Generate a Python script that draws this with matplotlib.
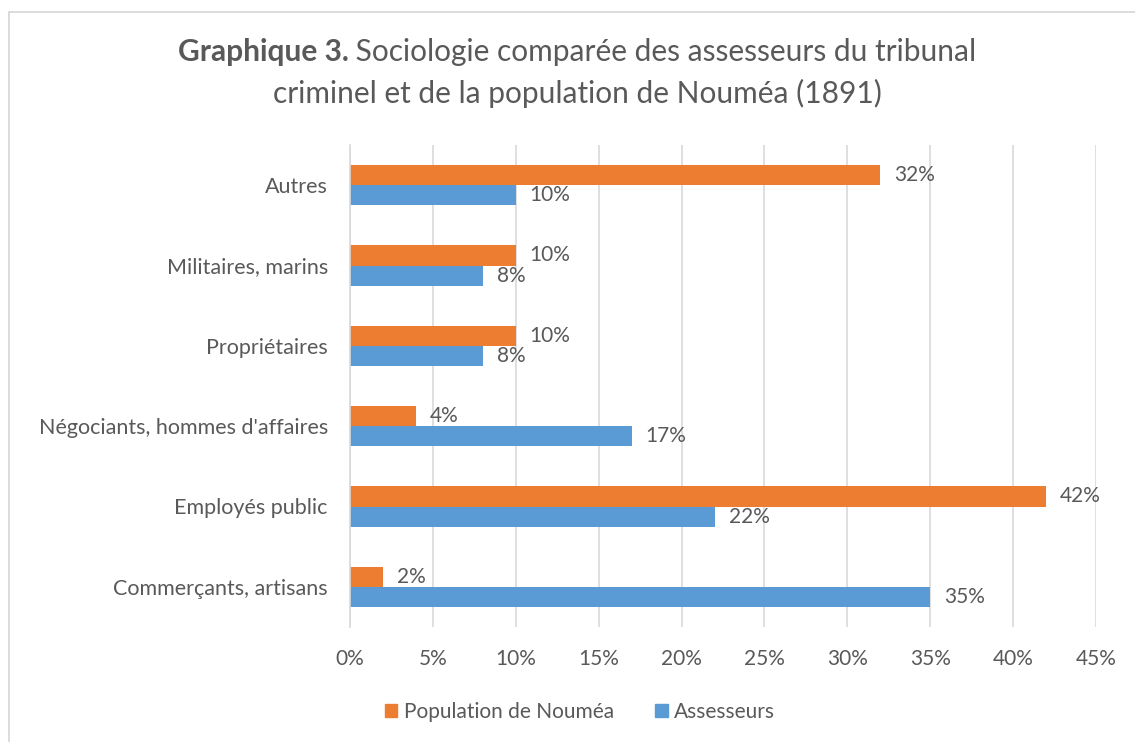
import numpy as np
import matplotlib.pyplot as plt
from matplotlib.patches import Rectangle, Patch

categories = ["Commerçants, artisans", "Employés public", "Négociants, hommes d'affaires",
              "Propriétaires", "Militaires, marins", "Autres"]
population = [2, 42, 4, 10, 10, 32]
assesseurs = [35, 22, 17, 8, 8, 10]
xticks = [0, 5, 10, 15, 20, 25, 30, 35, 40, 45]

ORANGE = '#ED7D31'
BLUE = '#5B9BD5'
TXT = '#595959'
FONT = 'Lato'
FS = 15

W, H = 1135, 742


def main():
    plt.rcParams['font.family'] = [FONT, 'DejaVu Sans']
    fig = plt.figure(figsize=(W / 100, H / 100), dpi=100)
    fig.patches.append(Rectangle((8.5 / W, -0.1), 1.2, 1 - 11.5 / H + 0.1,
                                 transform=fig.transFigure, fill=False,
                                 edgecolor='#d9d9d9', linewidth=1.3))

    ax = fig.add_axes([350 / W, 1 - 627 / H, (1096 - 350) / W, (627 - 145) / H])
    y = np.arange(len(categories))
    h = 0.25
    ax.barh(y + h / 2, population, height=h, color=ORANGE, label='Population de Nouméa', zorder=3)
    ax.barh(y - h / 2, assesseurs, height=h, color=BLUE, label='Assesseurs', zorder=3)

    for yi, v in zip(y, population):
        ax.annotate(f"{v}%", (v, yi + h / 2), xytext=(10, 0), textcoords='offset points',
                    va='center', ha='left', fontsize=FS, color=TXT)
    for yi, v in zip(y, assesseurs):
        ax.annotate(f"{v}%", (v, yi - h / 2), xytext=(10, 0), textcoords='offset points',
                    va='center', ha='left', fontsize=FS, color=TXT)

    ax.set_xlim(0, 45)
    ax.set_ylim(-0.5, len(categories) - 0.5)
    ax.set_xticks(xticks)
    ax.set_xticklabels([f"{t}%" for t in xticks])
    ax.set_yticks(y)
    ax.set_yticklabels(categories)
    ax.tick_params(axis='both', length=0, labelsize=FS, labelcolor=TXT)
    ax.tick_params(axis='y', labelsize=15.5)
    ax.tick_params(axis='x', pad=16)
    ax.tick_params(axis='y', pad=16)
    ax.grid(axis='x', color='#d9d9d9', linewidth=1.2, zorder=0)
    for s in ['top', 'right', 'bottom']:
        ax.spines[s].set_visible(False)
    ax.spines['left'].set_color('#d9d9d9')
    ax.spines['left'].set_linewidth(1.2)
    ax.spines['left'].set_zorder(4)

    # title: bold part + normal part on first line
    fig.canvas.draw()
    r = fig.canvas.get_renderer()
    cx = 577 / W
    t1 = fig.text(0, 1 - 52 / H, "Graphique 3.", fontsize=21.5, fontweight='bold',
                  color=TXT, va='center', ha='left')
    t2 = fig.text(0, 1 - 52 / H, " Sociologie comparée des assesseurs du tribunal",
                  fontsize=21.5, color=TXT, va='center', ha='left')
    w1 = t1.get_window_extent(r).width / W
    w2 = t2.get_window_extent(r).width / W
    x0 = cx - (w1 + w2) / 2
    t1.set_x(x0)
    t2.set_x(x0 + w1)
    fig.text(cx, 1 - 93 / H, "criminel et de la population de Nouméa (1891)",
             fontsize=21.5, color=TXT, va='center', ha='center')

    handles = [Patch(color=ORANGE, label='Population de Nouméa'),
               Patch(color=BLUE, label='Assesseurs')]
    fig.legend(handles=handles, loc='center', bbox_to_anchor=(580 / W, 1 - 712 / H),
               ncol=2, frameon=False, fontsize=FS, labelcolor=TXT,
               handlelength=0.6, handleheight=0.6, handletextpad=0.3, columnspacing=2.0)

    fig.savefig('out.png', dpi=100)


if __name__ == '__main__':
    main()
